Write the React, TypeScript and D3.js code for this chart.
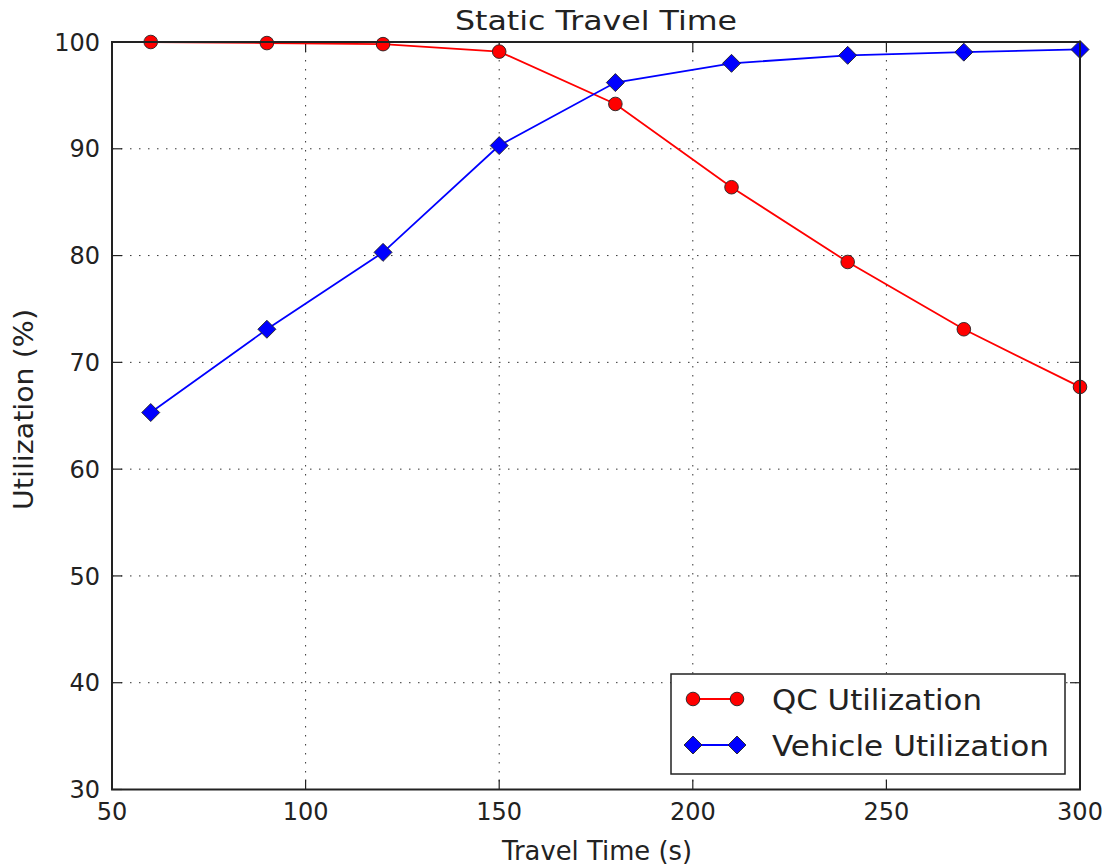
import React from "react";
import * as d3 from "d3";

const travelTimes = [60, 90, 120, 150, 180, 210, 240, 270, 300];
const qcUtil = [100, 99.9, 99.8, 99.1, 94.2, 86.4, 79.4, 73.1, 67.7];
const vehicleUtil = [65.3, 73.1, 80.3, 90.3, 96.2, 98.0, 98.75, 99.05, 99.3];
const xTicks = [50, 100, 150, 200, 250, 300];
const yTicks = [30, 40, 50, 60, 70, 80, 90, 100];
const seriesNames = ["QC Utilization", "Vehicle Utilization"];

const W = 1107, H = 865;
const L = 112, R = 1080, T = 42, B = 789.5;
const FONT = "DejaVu Sans, sans-serif";

export default function App() {
  const x = d3.scaleLinear().domain([50, 300]).range([L, R]);
  const y = d3.scaleLinear().domain([30, 100]).range([B, T]);
  const line = d3.line<[number, number]>().x(d => x(d[0])).y(d => y(d[1]));
  const qcPts = travelTimes.map((t, i) => [t, qcUtil[i]] as [number, number]);
  const vPts = travelTimes.map((t, i) => [t, vehicleUtil[i]] as [number, number]);
  const diamond = (cx: number, cy: number, r: number) =>
    `M${cx},${cy - r}L${cx + r},${cy}L${cx},${cy + r}L${cx - r},${cy}Z`;
  const tickLen = 10;
  const grid = { stroke: "#333", strokeWidth: 1, strokeDasharray: "1.5,7.5" };

  return (
    <svg width={W} height={H} style={{ position: "absolute", left: 0, top: 0, background: "#fff" }}>
      <rect x={0} y={0} width={W} height={H} fill="#fff" />
      {/* grid */}
      {xTicks.slice(1, -1).map(t => (
        <line key={"gx" + t} x1={x(t)} x2={x(t)} y1={T} y2={B} {...grid} />
      ))}
      {yTicks.slice(1, -1).map(t => (
        <line key={"gy" + t} x1={L} x2={R} y1={y(t)} y2={y(t)} {...grid} />
      ))}
      {/* ticks */}
      {xTicks.map(t => (
        <g key={"tx" + t}>
          <line x1={x(t)} x2={x(t)} y1={B} y2={B - tickLen} stroke="#222" strokeWidth={1.2} />
          <line x1={x(t)} x2={x(t)} y1={T} y2={T + tickLen} stroke="#222" strokeWidth={1.2} />
          <text x={x(t)} y={820} textAnchor="middle" fontFamily={FONT} fontSize={24} fill="#222">{t}</text>
        </g>
      ))}
      {yTicks.map(t => (
        <g key={"ty" + t}>
          <line x1={L} x2={L + tickLen} y1={y(t)} y2={y(t)} stroke="#222" strokeWidth={1.2} />
          <line x1={R} x2={R - tickLen} y1={y(t)} y2={y(t)} stroke="#222" strokeWidth={1.2} />
          <text x={100} y={y(t)} dy="0.36em" textAnchor="end" fontFamily={FONT} fontSize={24} fill="#222">{t}</text>
        </g>
      ))}
      {/* lines */}
      <path d={line(qcPts) || ""} fill="none" stroke="#ff0000" strokeWidth={1.8} />
      <path d={line(vPts) || ""} fill="none" stroke="#0000ff" strokeWidth={1.8} />
      {qcPts.map((p, i) => (
        <circle key={"qc" + i} cx={x(p[0])} cy={y(p[1])} r={6.8} fill="#ff0000" stroke="#222" strokeWidth={0.9} />
      ))}
      {vPts.map((p, i) => (
        <path key={"v" + i} d={diamond(x(p[0]), y(p[1]), 9)} fill="#0000ff" stroke="#222" strokeWidth={0.9} />
      ))}
      {/* frame */}
      <rect x={L} y={T} width={R - L} height={B - T} fill="none" stroke="#222" strokeWidth={2} />
      {/* legend */}
      <rect x={671} y={674} width={394} height={100} fill="#fff" stroke="#222" strokeWidth={1.5} />
      <line x1={693} x2={737} y1={699} y2={699} stroke="#ff0000" strokeWidth={1.8} />
      <circle cx={693} cy={699} r={6.8} fill="#ff0000" stroke="#222" strokeWidth={0.9} />
      <circle cx={737} cy={699} r={6.8} fill="#ff0000" stroke="#222" strokeWidth={0.9} />
      <text x={772} y={710} fontFamily={FONT} fontSize={29} textLength={210} lengthAdjust="spacingAndGlyphs" fill="#222">{seriesNames[0]}</text>
      <line x1={693} x2={737} y1={745} y2={745} stroke="#0000ff" strokeWidth={1.8} />
      <path d={diamond(693, 745, 9)} fill="#0000ff" stroke="#222" strokeWidth={0.9} />
      <path d={diamond(737, 745, 9)} fill="#0000ff" stroke="#222" strokeWidth={0.9} />
      <text x={772} y={756} fontFamily={FONT} fontSize={29} textLength={277} lengthAdjust="spacingAndGlyphs" fill="#222">{seriesNames[1]}</text>
      {/* title and labels */}
      <text x={455} y={30} fontFamily={FONT} fontSize={26} textLength={282} lengthAdjust="spacingAndGlyphs" fill="#222">Static Travel Time</text>
      <text x={502} y={860} fontFamily={FONT} fontSize={27} textLength={190} lengthAdjust="spacingAndGlyphs" fill="#222">Travel Time (s)</text>
      <text transform={`translate(33,510) rotate(-90)`} fontFamily={FONT} fontSize={27} textLength={201} lengthAdjust="spacingAndGlyphs" fill="#222">Utilization (%)</text>
    </svg>
  );
}
